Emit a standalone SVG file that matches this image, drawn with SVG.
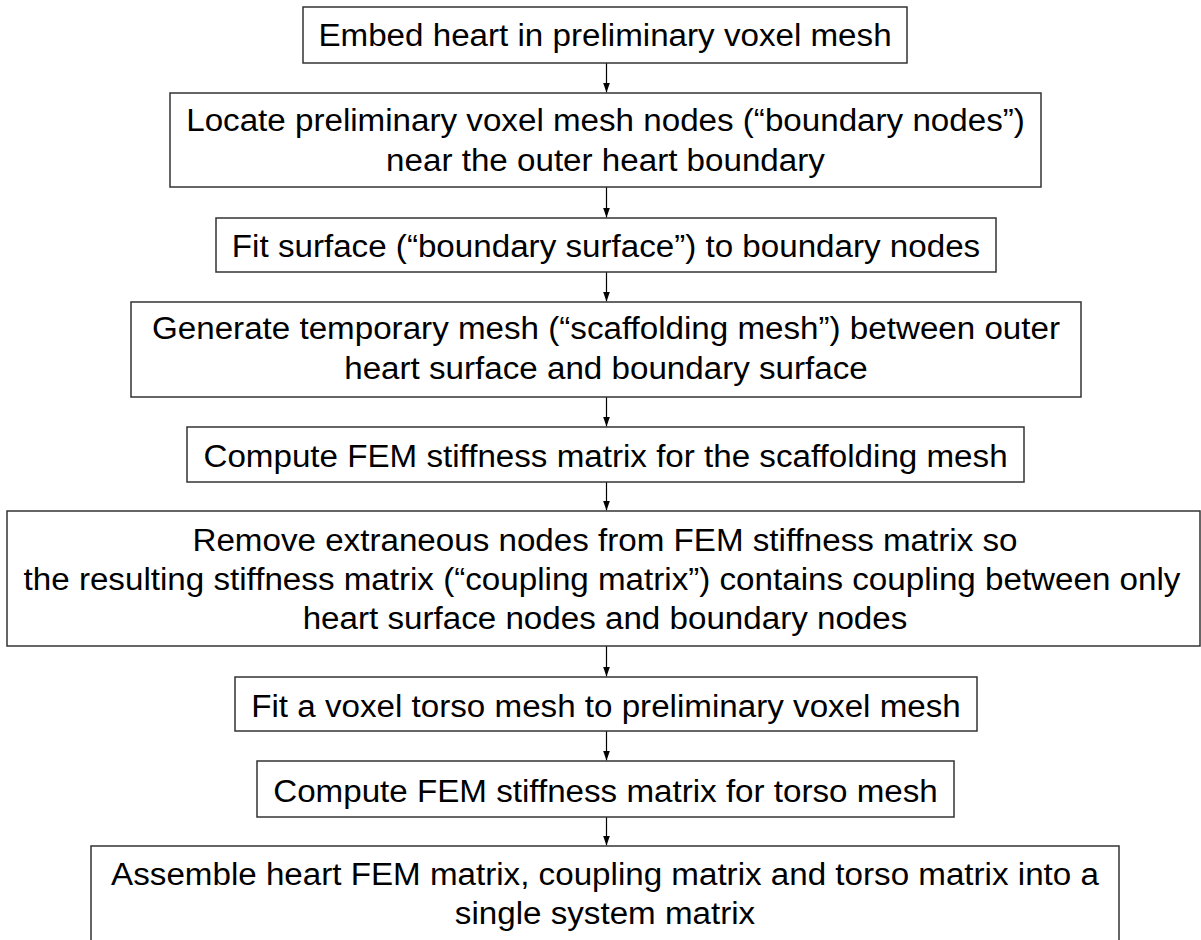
<svg xmlns="http://www.w3.org/2000/svg" width="1201" height="940" viewBox="0 0 1201 940">
<style>
.box{fill:#fff;stroke:#333;stroke-width:1.5}
.t{font-family:"Liberation Sans",Arial,sans-serif;font-size:31px;fill:#000;text-anchor:middle}
.c{stroke:#000;stroke-width:1.2;fill:none;marker-end:url(#ah)}
</style>
<defs>
<marker id="ah" markerUnits="userSpaceOnUse" markerWidth="11" markerHeight="8" refX="10" refY="3.5" orient="auto">
<path d="M0,0 L10,3.5 L0,7 z" fill="#000"/>
</marker>
</defs>
<rect width="1201" height="940" fill="#fff"/>
<g id="connectors">
<line class="c" x1="606.5" y1="63" x2="606.5" y2="92.5"/>
<line class="c" x1="606.5" y1="187" x2="606.5" y2="217.5"/>
<line class="c" x1="606.5" y1="272" x2="606.5" y2="301.5"/>
<line class="c" x1="606.5" y1="397" x2="606.5" y2="426.5"/>
<line class="c" x1="606.5" y1="482" x2="606.5" y2="510.5"/>
<line class="c" x1="606.5" y1="646" x2="606.5" y2="676.5"/>
<line class="c" x1="606.5" y1="731" x2="606.5" y2="760.5"/>
<line class="c" x1="606.5" y1="817" x2="606.5" y2="845.5"/>
</g>
<g id="n1">
<rect class="box" x="303" y="7" width="604" height="56"/>
<text class="t" transform="translate(605 46) scale(1.07 1)">Embed heart in preliminary voxel mesh</text>
</g>
<g id="n2">
<rect class="box" x="170" y="93" width="871" height="94"/>
<text class="t" transform="translate(605.5 131) scale(1.07 1)">Locate preliminary voxel mesh nodes (“boundary nodes”)</text>
<text class="t" transform="translate(605.5 170.5) scale(1.07 1)">near the outer heart boundary</text>
</g>
<g id="n3">
<rect class="box" x="216" y="218" width="780" height="54"/>
<text class="t" transform="translate(606 257) scale(1.07 1)">Fit surface (“boundary surface”) to boundary nodes</text>
</g>
<g id="n4">
<rect class="box" x="131" y="302" width="950" height="95"/>
<text class="t" transform="translate(606 339) scale(1.07 1)">Generate temporary mesh (“scaffolding mesh”) between outer</text>
<text class="t" transform="translate(606 379) scale(1.07 1)">heart surface and boundary surface</text>
</g>
<g id="n5">
<rect class="box" x="187" y="427" width="837" height="55"/>
<text class="t" transform="translate(605.5 467) scale(1.07 1)">Compute FEM stiffness matrix for the scaffolding mesh</text>
</g>
<g id="n6">
<rect class="box" x="7" y="511" width="1193" height="135"/>
<text class="t" transform="translate(605 551) scale(1.07 1)">Remove extraneous nodes from FEM stiffness matrix so</text>
<text class="t" transform="translate(602 590) scale(1.07 1)">the resulting stiffness matrix (“coupling matrix”) contains coupling between only</text>
<text class="t" transform="translate(605 629) scale(1.07 1)">heart surface nodes and boundary nodes</text>
</g>
<g id="n7">
<rect class="box" x="235" y="677" width="742" height="54"/>
<text class="t" transform="translate(606 717) scale(1.07 1)">Fit a voxel torso mesh to preliminary voxel mesh</text>
</g>
<g id="n8">
<rect class="box" x="257" y="761" width="697" height="56"/>
<text class="t" transform="translate(605.5 802) scale(1.07 1)">Compute FEM stiffness matrix for torso mesh</text>
</g>
<g id="n9">
<rect class="box" x="91" y="846" width="1028" height="110"/>
<text class="t" transform="translate(605 885) scale(1.07 1)">Assemble heart FEM matrix, coupling matrix and torso matrix into a</text>
<text class="t" transform="translate(605 924) scale(1.07 1)">single system matrix</text>
</g>
</svg>
